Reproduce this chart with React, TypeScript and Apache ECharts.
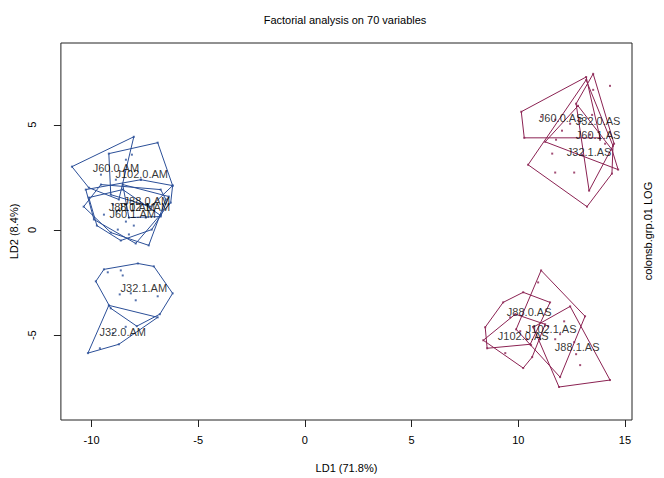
import React, { useEffect, useRef } from "react";
import * as echarts from "echarts";

type Pt = [number, number];

// ---- axis ticks ----
const xTicks = [-10, -5, 0, 5, 10, 15];
const yTicks = [-5, 0, 5];

// ---- group points (LD1, LD2) ----
const J60_0_AM: Pt[] = [[-10.92, 3.01], [-8.02, 4.43], [-8.72, 1.45], [-10.13, 2.01], [-9.56, 2.63], [-8.86, 2.39]];
const J102_0_AM: Pt[] = [[-9.19, 3.63], [-6.9, 4.15], [-6.2, 2.11], [-7.23, 1.11], [-9.1, 1.68], [-8.39, 3.34], [-8.11, 3.58], [-7.69, 2.39]];
const J88_0_AM: Pt[] = [[-8.54, 2.16], [-6.38, 1.59], [-6.76, 0.64], [-8.25, 0.59], [-7.46, 1.21]];
const J88_1_AM: Pt[] = [[-10.27, 1.92], [-7.69, 2.39], [-6.2, 2.11], [-6.29, 1.3], [-7.93, -0.64], [-9.89, 0.5], [-9.0, 1.21], [-8.39, 0.4]];
const J102_1_AM: Pt[] = [[-10.37, 1.11], [-9.56, 2.16], [-6.76, 1.92], [-6.52, 1.45], [-7.32, -0.73], [-9.1, -0.12], [-8.02, 0.21], [-7.46, 0.59]];
const J60_1_AM: Pt[] = [[-10.13, 1.54], [-8.54, 1.92], [-6.76, 0.69], [-7.18, 0.02], [-8.63, -0.5], [-9.75, 0.21], [-8.82, 0.88], [-8.25, -0.21], [-9.42, 0.73], [-8.77, 0.02]];
const J32_1_AM: Pt[] = [[-9.8, -2.44], [-9.42, -1.87], [-7.83, -1.59], [-7.08, -1.73], [-6.2, -3.01], [-6.8, -4.0], [-7.88, -4.57], [-9.1, -3.72], [-8.63, -1.92], [-8.54, -2.16], [-9.24, -2.01], [-8.68, -3.06], [-8.16, -3.01], [-7.93, -3.34], [-6.9, -3.15]];
const J32_0_AM: Pt[] = [[-9.19, -3.58], [-6.9, -4.15], [-8.72, -5.43], [-10.17, -5.85], [-9.61, -5.62], [-9.0, -4.9], [-8.4, -4.6]];

const J60_0_AS: Pt[] = [[10.14, 5.62], [13.18, 7.27], [13.83, 4.38], [10.28, 4.38], [11.07, 5.38], [12.05, 4.72], [12.43, 5.05], [11.73, 5.24]];
const J32_0_AS: Pt[] = [[13.51, 7.42], [14.49, 4.1], [13.32, 1.87], [12.71, 6.0], [13.51, 6.66], [13.46, 5.47], [14.07, 4.1]];
const J60_1_AS: Pt[] = [[12.8, 5.9], [14.68, 2.87], [11.77, 4.29], [11.26, 4.19], [14.39, 3.82], [13.36, 4.53], [13.83, 4.29]];
const J32_1_AS: Pt[] = [[10.46, 3.1], [13.18, 7.13], [14.44, 4.0], [14.39, 2.68], [13.22, 1.11], [11.73, 2.73], [12.62, 2.73], [11.59, 3.63], [12.99, 3.58]];
const J88_0_AS: Pt[] = [[8.45, -4.62], [9.29, -3.44], [10.23, -2.96], [11.49, -3.44], [10.56, -5.43], [8.54, -5.62], [9.62, -4.15], [10.09, -4.81]];
const J102_1_AS: Pt[] = [[11.07, -1.92], [13.13, -4.1], [11.96, -6.99], [9.9, -4.72], [10.93, -2.49], [11.4, -4.57], [11.73, -5.19], [11.02, -5.19]];
const J102_0_AS: Pt[] = [[8.36, -5.24], [9.86, -4.0], [11.26, -4.48], [10.65, -6.04], [10.23, -6.56], [9.39, -5.85], [10.42, -5.19], [10.6, -5.47]];
const J88_1_AS: Pt[] = [[10.7, -4.62], [12.43, -3.63], [14.3, -7.13], [11.91, -7.46], [12.15, -4.34], [12.62, -5.33], [12.71, -5.9], [12.9, -6.42], [11.96, -4.95]];
const strayAS: Pt[] = [[14.3, 6.85]];

const groupNames = [
  "J60.0.AM", "J102.0.AM", "J88.0.AM", "J88.1.AM", "J102.1.AM", "J60.1.AM", "J32.1.AM", "J32.0.AM",
  "J60.0.AS", "J32.0.AS", "J60.1.AS", "J32.1.AS", "J88.0.AS", "J102.1.AS", "J102.0.AS", "J88.1.AS",
];
const groupPoints: Pt[][] = [
  J60_0_AM, J102_0_AM, J88_0_AM, J88_1_AM, J102_1_AM, J60_1_AM, J32_1_AM, J32_0_AM,
  J60_0_AS, J32_0_AS, J60_1_AS, J32_1_AS, J88_0_AS, J102_1_AS, J102_0_AS, J88_1_AS,
];
// group centres (label positions)
const groupCentres: Pt[] = [
  [-8.86, 2.96], [-7.65, 2.68], [-7.41, 1.4], [-8.11, 1.07], [-7.55, 1.07], [-8.07, 0.78], [-7.55, -2.77], [-8.54, -4.86],
  [12.01, 5.33], [13.74, 5.19], [13.74, 4.53], [13.32, 3.72], [10.51, -3.91], [11.54, -4.72], [10.23, -5.05], [12.76, -5.57],
];

const BLUE = "#2b4f98";
const RED = "#8b2252";
const FONT = "'Liberation Sans', Arial, Helvetica, sans-serif";

function convexHull(pts: Pt[]): Pt[] {
  const p = pts.slice().sort((a, b) => a[0] - b[0] || a[1] - b[1]);
  const cross = (o: Pt, a: Pt, b: Pt) => (a[0] - o[0]) * (b[1] - o[1]) - (a[1] - o[1]) * (b[0] - o[0]);
  const lower: Pt[] = [];
  for (const q of p) {
    while (lower.length >= 2 && cross(lower[lower.length - 2], lower[lower.length - 1], q) <= 0) lower.pop();
    lower.push(q);
  }
  const upper: Pt[] = [];
  for (let i = p.length - 1; i >= 0; i--) {
    const q = p[i];
    while (upper.length >= 2 && cross(upper[upper.length - 2], upper[upper.length - 1], q) <= 0) upper.pop();
    upper.push(q);
  }
  upper.pop();
  lower.pop();
  return lower.concat(upper);
}

export default function App() {
  const ref = useRef<HTMLDivElement>(null);
  useEffect(() => {
    document.body.style.margin = "0";
    if (!ref.current) return;
    const chart = echarts.init(ref.current, undefined, { renderer: "svg" });
    const series: any[] = [];
    groupNames.forEach((name, i) => {
      const color = name.endsWith("AM") ? BLUE : RED;
      const h = convexHull(groupPoints[i]);
      series.push({
        type: "line",
        data: [...h, h[0]],
        symbol: "none",
        showSymbol: false,
        lineStyle: { color, width: 1 },
        itemStyle: { color },
        silent: true,
        z: 2,
      });
      series.push({
        type: "scatter",
        data: groupPoints[i],
        symbol: "rect",
        symbolSize: 2,
        itemStyle: { color },
        silent: true,
        z: 3,
      });
    });
    series.push({
      type: "scatter",
      data: strayAS,
      symbol: "rect",
      symbolSize: 2,
      itemStyle: { color: RED },
      silent: true,
      z: 3,
    });
    series.push({
      type: "scatter",
      data: groupNames.map((n, i) => ({ value: groupCentres[i], name: n })),
      symbol: "circle",
      symbolSize: 1,
      itemStyle: { color: "rgba(0,0,0,0)" },
      label: {
        show: true,
        position: "inside",
        formatter: "{b}",
        color: "#000",
        fontSize: 11,
        fontFamily: FONT,
        textBorderWidth: 0,
      },
      silent: true,
      z: 5,
    });

    chart.setOption({
      animation: false,
      textStyle: { fontFamily: FONT },
      grid: {
        left: 60,
        right: 32,
        top: 43,
        bottom: 57,
        show: true,
        borderColor: "#222",
        borderWidth: 1,
        backgroundColor: "transparent",
      },
      xAxis: {
        type: "value",
        min: -11.437,
        max: 15.33,
        name: "LD1 (71.8%)",
        nameLocation: "middle",
        nameGap: 42,
        nameTextStyle: { fontSize: 11, color: "#000", fontFamily: FONT },
        axisLine: { show: false, onZero: false },
        axisTick: { show: true, length: 7, customValues: xTicks, lineStyle: { color: "#222" } },
        axisLabel: { show: true, customValues: xTicks, fontSize: 11, color: "#000", margin: 14, fontFamily: FONT },
        splitLine: { show: false },
      },
      yAxis: {
        type: "value",
        min: -9.028,
        max: 8.886,
        name: "LD2 (8.4%)",
        nameLocation: "middle",
        nameGap: 40,
        nameTextStyle: { fontSize: 11, color: "#000", fontFamily: FONT },
        axisLine: { show: false, onZero: false },
        axisTick: { show: true, length: 7, customValues: yTicks, lineStyle: { color: "#222" } },
        axisLabel: { show: true, customValues: yTicks, fontSize: 11, color: "#000", margin: 23, rotate: 90, fontFamily: FONT },
        splitLine: { show: false },
      },
      graphic: [
        {
          type: "text",
          x: 345,
          y: 20,
          style: {
            text: "Factorial analysis on 70 variables",
            align: "center",
            verticalAlign: "middle",
            fontSize: 11,
            fontFamily: FONT,
            fill: "#000",
          },
        },
        {
          type: "text",
          x: 648,
          y: 231,
          rotation: Math.PI / 2,
          style: {
            text: "colonsb.grp.01 LOG",
            align: "center",
            verticalAlign: "middle",
            fontSize: 11,
            fontFamily: FONT,
            fill: "#000",
          },
        },
      ],
      series,
    });
    return () => chart.dispose();
  }, []);
  return <div ref={ref} style={{ width: 664, height: 478 }} />;
}
